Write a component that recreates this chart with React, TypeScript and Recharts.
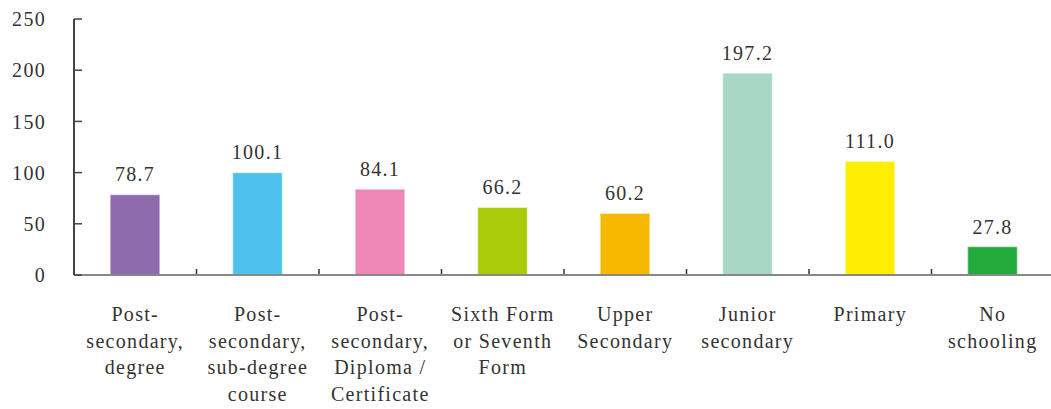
import React from "react";
import { BarChart, Bar, XAxis, YAxis, LabelList, Cell } from "recharts";

// Education attainment categories, values and bar colours
const categories = [
  "Post-\nsecondary,\ndegree",
  "Post-\nsecondary,\nsub-degree\ncourse",
  "Post-\nsecondary,\nDiploma /\nCertificate",
  "Sixth Form\nor Seventh\nForm",
  "Upper\nSecondary",
  "Junior\nsecondary",
  "Primary",
  "No\nschooling",
];
const values = [78.7, 100.1, 84.1, 66.2, 60.2, 197.2, 111.0, 27.8];
const colors = [
  "#8e6bad",
  "#4fc1ee",
  "#ee87b5",
  "#a8cc0a",
  "#f6b900",
  "#a8d8c5",
  "#ffee00",
  "#22aa3a",
];
const yTicks = [0, 50, 100, 150, 200, 250];

const FONT = "Liberation Serif, DejaVu Serif, serif";
const TEXT = "#333";

const data = categories.map((name, i) => ({ name, value: values[i] }));

// Multi-line category labels, plus a short upward tick at the left edge of each band
const CategoryTick = (props: any) => {
  const { x, y, payload } = props;
  const lines = String(payload.value).split("\n");
  const half = Number(payload.offset) || 0;
  return (
    <g>
      {payload.index > 0 && half > 0 && (
        <line
          x1={x - half}
          x2={x - half}
          y1={y - 1}
          y2={y - 6}
          stroke="#333"
          strokeWidth={1.5}
        />
      )}
      <text
        x={x}
        y={y + 46}
        textAnchor="middle"
        fill={TEXT}
        style={{ fontFamily: FONT, fontSize: 20, letterSpacing: 1.3 }}
      >
        {lines.map((line, i) => (
          <tspan key={i} x={x} dy={i === 0 ? 0 : 26.5}>
            {line}
          </tspan>
        ))}
      </text>
    </g>
  );
};

export default function App() {
  return (
    <div
      style={{
        position: "absolute",
        left: 0,
        top: 0,
        width: 1051,
        height: 409,
        overflow: "hidden",
        background: "#fff",
        fontFamily: FONT,
      }}
    >
      <BarChart
        width={1051}
        height={409}
        data={data}
        margin={{ top: 19, right: -3, left: 0, bottom: 0 }}
        style={{ fontFamily: FONT, overflow: "hidden" }}
      >
        <XAxis
          dataKey="name"
          height={134}
          interval={0}
          axisLine={{ stroke: "#888", strokeWidth: 2 }}
          tickLine={false}
          tickSize={0}
          tickMargin={0}
          tick={<CategoryTick />}
        />
        <YAxis
          width={74}
          domain={[0, 250]}
          ticks={yTicks}
          interval={0}
          axisLine={{ stroke: "#444", strokeWidth: 2 }}
          tickLine={{ stroke: "#444", strokeWidth: 1.5 }}
          tickSize={-8}
          tickMargin={36}
          tick={{
            fill: TEXT,
            fontSize: 20,
            style: { fontFamily: FONT, letterSpacing: 1.3 },
          }}
        />
        <Bar
          dataKey="value"
          barSize={50}
          stroke="#ffffff"
          strokeOpacity={0.6}
          strokeWidth={1.5}
          isAnimationActive={false}
        >
          {data.map((d, i) => (
            <Cell key={d.name} fill={colors[i]} />
          ))}
          <LabelList
            dataKey="value"
            position="top"
            offset={13}
            formatter={(v: any) => Number(v).toFixed(1)}
            fill={TEXT}
            fontSize={20}
            style={{ fontFamily: FONT, letterSpacing: 1.3 }}
          />
        </Bar>
      </BarChart>
    </div>
  );
}
